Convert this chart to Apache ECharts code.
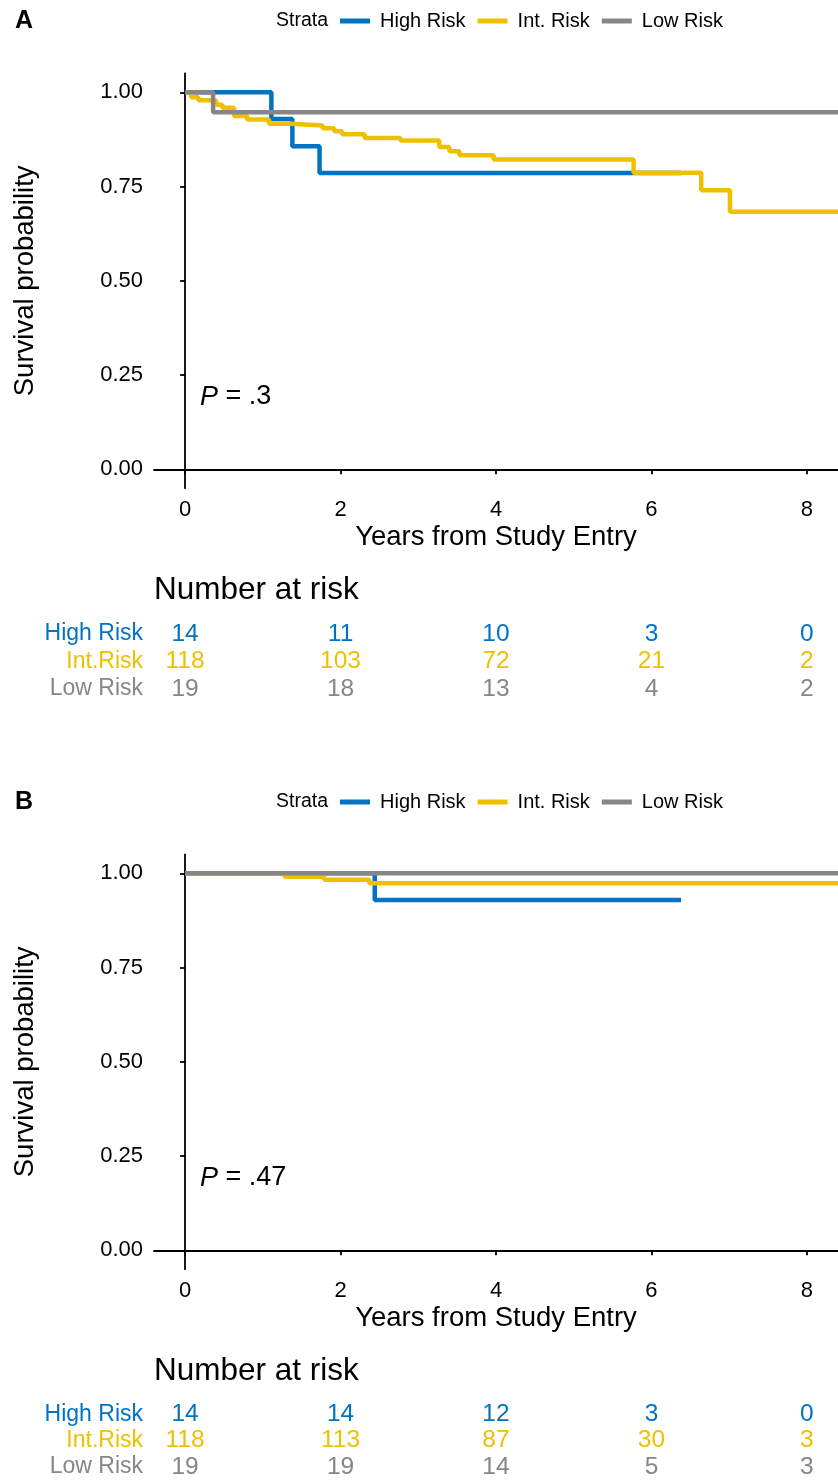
<!DOCTYPE html>
<html>
<head>
<meta charset="utf-8">
<script src="https://cdn.jsdelivr.net/npm/echarts@6/dist/echarts.min.js"></script>
<style>
html,body{margin:0;padding:0;background:#fff;}
#chart{width:838px;height:1480px;}
</style>
</head>
<body>
<div id="chart"></div>
<script>
// ---------- data ----------
const strata = ['High Risk', 'Int. Risk', 'Low Risk'];
const riskRowLabels = ['High Risk', 'Int.Risk', 'Low Risk'];
const xTicks = [0, 2, 4, 6, 8];
const yTicks = [0, 0.25, 0.5, 0.75, 1];
const riskTimes = [0, 2, 4, 6, 8];

// Panel A curves
const A_high_t = [0, 1.11, 1.38, 1.73, 6.38];
const A_high_s = [1, 0.929, 0.857, 0.786, 0.786];
const A_int_t = [0, 0.08, 0.17, 0.40, 0.48, 0.63, 0.80, 1.08, 1.37, 1.77, 1.92, 2.02, 2.31, 2.77, 3.27, 3.40, 3.53, 3.97, 5.77, 6.64, 7.01, 8.5];
const A_int_s = [1, 0.987, 0.979, 0.967, 0.959, 0.937, 0.928, 0.917, 0.912, 0.905, 0.897, 0.889, 0.879, 0.872, 0.855, 0.844, 0.833, 0.822, 0.787, 0.740, 0.683, 0.683];
const A_low_t = [0, 0.36, 8.5];
const A_low_s = [1, 0.947, 0.947];

// Panel B curves
const B_high_t = [0, 2.44, 6.38];
const B_high_s = [1, 0.929, 0.929];
const B_int_t = [0, 1.28, 1.79, 2.37, 8.5];
const B_int_s = [1, 0.991, 0.983, 0.974, 0.974];
const B_low_t = [0, 8.5];
const B_low_s = [1, 1];

// Numbers at risk
const riskA_high = [14, 11, 10, 3, 0];
const riskA_int = [118, 103, 72, 21, 2];
const riskA_low = [19, 18, 13, 4, 2];
const riskB_high = [14, 14, 12, 3, 0];
const riskB_int = [118, 113, 87, 30, 3];
const riskB_low = [19, 19, 14, 5, 3];

const pA = '.3';
const pB = '.47';

// ---------- style ----------
const FONT = 'Liberation Sans, Arial, Helvetica, sans-serif';
const colors = ['#0073C2', '#EFC000', '#868686'];
const OFF = 781;           // vertical offset of panel B
const PLOT_TOP = 73.5, PLOT_H = 414.7;
const TAB_TOP = 620, TAB_H = 82.5;
const LEFT = 154, WIDTH = 686.4;

const zip = (t, s) => t.map((v, i) => [v, s[i]]);

const grids = [
  { left: LEFT, top: PLOT_TOP, width: WIDTH, height: PLOT_H },
  { left: LEFT, top: TAB_TOP, width: WIDTH, height: TAB_H },
  { left: LEFT, top: PLOT_TOP + OFF, width: WIDTH, height: PLOT_H },
  { left: LEFT, top: TAB_TOP + OFF, width: WIDTH, height: TAB_H }
];

function plotX(gi) {
  return {
    type: 'value', gridIndex: gi, min: -0.4, max: 8.4,
    name: 'Years from Study Entry', nameLocation: 'middle', nameGap: 35,
    nameTextStyle: { fontFamily: FONT, fontSize: 27.5, color: '#000' },
    axisLine: { show: true, lineStyle: { color: '#000', width: 1.8 } },
    axisTick: { show: true, length: 5, lineStyle: { color: '#000', width: 1.8 }, customValues: xTicks },
    axisLabel: { fontFamily: FONT, fontSize: 22, color: '#000', margin: 11, customValues: xTicks },
    splitLine: { show: false }
  };
}
function plotY(gi) {
  return {
    type: 'value', gridIndex: gi, min: -0.05, max: 1.05,
    name: 'Survival probability', nameLocation: 'middle', nameGap: 115, nameRotate: 90,
    nameTextStyle: { fontFamily: FONT, fontSize: 27.5, color: '#000' },
    axisLine: { show: true, lineStyle: { color: '#000', width: 1.8 } },
    axisTick: { show: true, length: 5, lineStyle: { color: '#000', width: 1.8 }, customValues: yTicks },
    axisLabel: { fontFamily: FONT, fontSize: 22, color: '#000', margin: 11, customValues: yTicks,
      formatter: v => v.toFixed(2) },
    splitLine: { show: false }
  };
}
function tabX(gi) {
  return { type: 'value', gridIndex: gi, min: -0.4, max: 8.4, show: false, splitLine: { show: false } };
}
function tabY(gi) {
  return {
    type: 'category', gridIndex: gi, data: riskRowLabels, inverse: true,
    axisLine: { show: false }, axisTick: { show: false }, splitLine: { show: false },
    axisLabel: {
      interval: 0, margin: 11, fontFamily: FONT, fontSize: 23,
      formatter: (v) => `{r${riskRowLabels.indexOf(v)}|${v}}`,
      rich: {
        r0: { color: colors[0], fontFamily: FONT, fontSize: 23 },
        r1: { color: colors[1], fontFamily: FONT, fontSize: 23 },
        r2: { color: colors[2], fontFamily: FONT, fontSize: 23 }
      }
    }
  };
}

function curve(name, t, s, ci, gi) {
  return {
    type: 'line', name: name, step: 'end', xAxisIndex: gi, yAxisIndex: gi,
    data: zip(t, s), showSymbol: false, symbol: 'none', color: colors[ci],
    lineStyle: { width: 4.5, color: colors[ci] }, clip: true, animation: false
  };
}
function riskRow(vals, ri, gi) {
  return {
    type: 'scatter', name: 'risk' + gi + ri, xAxisIndex: gi, yAxisIndex: gi,
    data: riskTimes.map((t, i) => [t, ri, vals[i]]),
    symbol: 'circle', symbolSize: 2, itemStyle: { color: 'rgba(0,0,0,0)' },
    label: { show: true, position: 'inside', formatter: p => String(p.value[2]),
      color: colors[ri], opacity: 1, textBorderWidth: 0, textBorderColor: 'transparent',
      fontFamily: FONT, fontSize: 24.5 },
    emphasis: { disabled: true },
    animation: false
  };
}

function legend(top) {
  return {
    data: strata, left: 340, top: top, orient: 'horizontal', padding: 0,
    icon: 'rect', itemWidth: 30, itemHeight: 5, itemGap: 12,
    textStyle: { fontFamily: FONT, fontSize: 20, color: '#000', padding: [0, 0, 0, 5] },
    selectedMode: false
  };
}

function texts(off, letter, p) {
  return [
    { type: 'text', style: { text: letter, x: 15, y: 21 + off, verticalAlign: 'middle',
        font: 'bold 25px ' + FONT, fill: '#000' } },
    { type: 'text', style: { text: 'Strata', x: 276, y: 21 + off, verticalAlign: 'middle',
        font: '19.5px ' + FONT, fill: '#000' } },
    { type: 'text', style: { text: '{i|P} = ' + p, x: 200, y: 397 + off, verticalAlign: 'middle',
        font: '27px ' + FONT, fill: '#000',
        rich: { i: { fontStyle: 'italic', fontFamily: FONT, fontSize: 27, fill: '#000' } } } },
    { type: 'text', style: { text: 'Number at risk', x: 154, y: 590 + off, verticalAlign: 'middle',
        font: '31.5px ' + FONT, fill: '#000' } }
  ];
}

const chart = echarts.init(document.getElementById('chart'), null, { renderer: 'canvas' });
chart.setOption({
  backgroundColor: '#fff',
  animation: false,
  grid: grids,
  xAxis: [plotX(0), tabX(1), plotX(2), tabX(3)],
  yAxis: [plotY(0), tabY(1), plotY(2), tabY(3)],
  legend: [legend(11), legend(11 + OFF)],
  graphic: texts(0, 'A', pA).concat(texts(OFF, 'B', pB)),
  series: [
    curve(strata[0], A_high_t, A_high_s, 0, 0),
    curve(strata[1], A_int_t, A_int_s, 1, 0),
    curve(strata[2], A_low_t, A_low_s, 2, 0),
    riskRow(riskA_high, 0, 1), riskRow(riskA_int, 1, 1), riskRow(riskA_low, 2, 1),
    curve(strata[0], B_high_t, B_high_s, 0, 2),
    curve(strata[1], B_int_t, B_int_s, 1, 2),
    curve(strata[2], B_low_t, B_low_s, 2, 2),
    riskRow(riskB_high, 0, 3), riskRow(riskB_int, 1, 3), riskRow(riskB_low, 2, 3)
  ]
});
</script>
</body>
</html>
